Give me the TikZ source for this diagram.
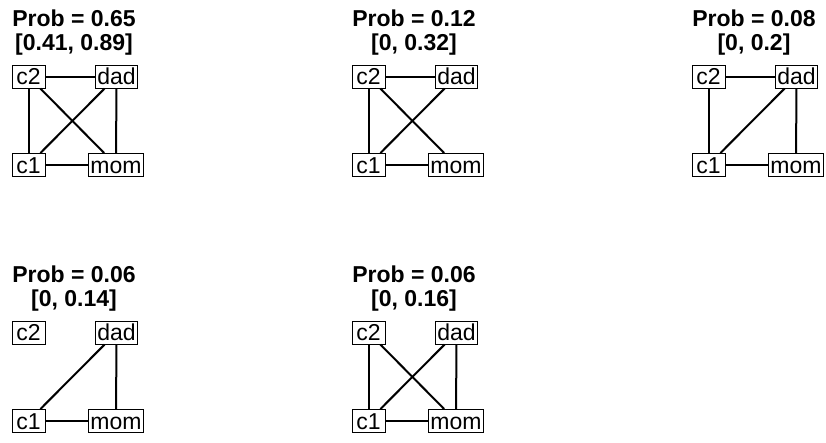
\documentclass[tikz,border=0pt]{standalone}
\usepackage{fontspec}
\setmainfont{Liberation Sans}
\usetikzlibrary{positioning}

\begin{document}
\begin{tikzpicture}[x = 1pt, y = -1pt,
  box/.style = {draw, fill = white, line width = 1pt, inner xsep = 2pt, inner ysep = 0pt, minimum width = 33pt, minimum height = 23pt, text height = 16.5pt, text depth = 0pt, font = \fontsize{23}{24}\selectfont},
  head/.style = {anchor = base, inner sep = 0pt, font = \bfseries\fontsize{23}{24}\selectfont},
  link/.style = {line width = 2pt}]

\useasboundingbox (0,0) rectangle (826,442);

\begin{scope}
\node[head] at (74,26) (probA) {Prob = 0.65};
\node[head] at (74,50) (ciA) {[0.41, 0.89]};
\node[box] at (28.5,76.5) (c2A) {c2};
\node[box] at (116.5,76.5) (dadA) {dad};
\node[box] at (28.5,165) (c1A) {c1};
\node[box] at (116,165) (momA) {mom};
\draw[link] (c2A) -- (dadA);
\draw[link] (c2A) -- (c1A);
\draw[link] (c2A) -- (momA);
\draw[link] (dadA) -- (c1A);
\draw[link] (dadA) -- (momA);
\draw[link] (c1A) -- (momA);
\end{scope}

\begin{scope}[shift = {(340,0)}]
\node[head] at (74,26) (probB) {Prob = 0.12};
\node[head] at (74,50) (ciB) {[0, 0.32]};
\node[box] at (28.5,76.5) (c2B) {c2};
\node[box] at (116.5,76.5) (dadB) {dad};
\node[box] at (28.5,165) (c1B) {c1};
\node[box] at (116,165) (momB) {mom};
\draw[link] (c2B) -- (dadB);
\draw[link] (c2B) -- (c1B);
\draw[link] (c2B) -- (momB);
\draw[link] (dadB) -- (c1B);
\draw[link] (c1B) -- (momB);
\end{scope}

\begin{scope}[shift = {(680,0)}]
\node[head] at (74,26) (probC) {Prob = 0.08};
\node[head] at (74,50) (ciC) {[0, 0.2]};
\node[box] at (28.5,76.5) (c2C) {c2};
\node[box] at (116.5,76.5) (dadC) {dad};
\node[box] at (28.5,165) (c1C) {c1};
\node[box] at (116,165) (momC) {mom};
\draw[link] (c2C) -- (dadC);
\draw[link] (c2C) -- (c1C);
\draw[link] (dadC) -- (c1C);
\draw[link] (dadC) -- (momC);
\draw[link] (c1C) -- (momC);
\end{scope}

\begin{scope}[shift = {(0,256)}]
\node[head] at (74,26) (probD) {Prob = 0.06};
\node[head] at (74,50) (ciD) {[0, 0.14]};
\node[box] at (28.5,76.5) (c2D) {c2};
\node[box] at (116.5,76.5) (dadD) {dad};
\node[box] at (28.5,165) (c1D) {c1};
\node[box] at (116,165) (momD) {mom};
\draw[link] (dadD) -- (c1D);
\draw[link] (dadD) -- (momD);
\draw[link] (c1D) -- (momD);
\end{scope}

\begin{scope}[shift = {(340,256)}]
\node[head] at (74,26) (probE) {Prob = 0.06};
\node[head] at (74,50) (ciE) {[0, 0.16]};
\node[box] at (28.5,76.5) (c2E) {c2};
\node[box] at (116.5,76.5) (dadE) {dad};
\node[box] at (28.5,165) (c1E) {c1};
\node[box] at (116,165) (momE) {mom};
\draw[link] (c2E) -- (c1E);
\draw[link] (c2E) -- (momE);
\draw[link] (dadE) -- (c1E);
\draw[link] (dadE) -- (momE);
\draw[link] (c1E) -- (momE);
\end{scope}

\end{tikzpicture}
\end{document}
